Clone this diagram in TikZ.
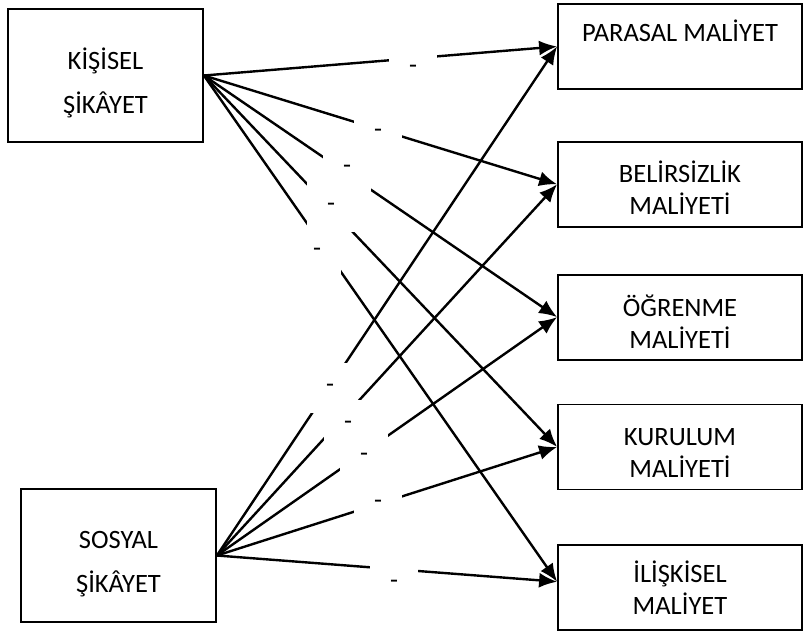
\documentclass[tikz,border=0pt]{standalone}
\usepackage{fontspec}
\setmainfont{Carlito}
\usetikzlibrary{arrows.meta, positioning}

\begin{document}
\begin{tikzpicture}[x=1pt, y=-1pt, src/.style={draw, line width=1.8pt, minimum width=195pt, minimum height=133pt, align=center, font=\fontsize{26.5}{44}\selectfont}, cost/.style={draw, line width=1.8pt, minimum width=244pt, minimum height=85pt, align=center, font=\fontsize{26.5}{32}\selectfont}, arrow/.style={-{Latex[length=18pt, width=15pt]}, line width=2.4pt}, gap/.style={fill=white, minimum width=48pt, minimum height=50pt, inner sep=0pt, font=\fontsize{26}{26}\selectfont}]
\useasboundingbox (0,0) rectangle (803,632);

\node[src] (kis) at (105.5,75.5) {\rule{0pt}{37pt}KİŞİSEL\\ŞİKÂYET};
\node[src] (sos) at (118.5,555.5) {\rule{0pt}{34pt}SOSYAL\\ŞİKÂYET};

\node[cost] (par) at (680,46.5) {PARASAL MALİYET\\~};
\node[cost, below=51pt of par] (bel) {\rule{0pt}{28pt}BELİRSİZLİK\\MALİYETİ};
\node[cost, below=46pt of bel] (ogr) {\rule{0pt}{31pt}ÖĞRENME\\MALİYETİ};
\node[cost, below=43pt of ogr] (kur) {\rule{0pt}{30pt}KURULUM\\MALİYETİ};
\node[cost, below=54pt of kur] (ili) {İLİŞKİSEL\\MALİYET};

\draw[arrow](kis.east)--(par.west);\draw[arrow](sos.east)--(par.west);
\draw[arrow](kis.east)--(bel.west);\draw[arrow](sos.east)--(bel.west);
\draw[arrow](kis.east)--(ogr.west);\draw[arrow](sos.east)--(ogr.west);
\draw[arrow](kis.east)--(kur.west);\draw[arrow](sos.east)--(kur.west);
\draw[arrow](kis.east)--([yshift=6pt]ili.west);\draw[arrow](sos.east)--([yshift=6pt]ili.west);

% white boxes with a dash that break the lines
\node[gap] (gk1) at (413,69) {-};
\node[gap] (gk2) at (378,133) {-};
\node[gap] (gk3) at (347,169) {-};
\node[gap] (gk4) at (331,207) {-};
\node[gap] (gk5) at (317,252) {-};
\node[gap] (gs1) at (330,388) {-};
\node[gap] (gs2) at (348,425) {-};
\node[gap] (gs3) at (364,457) {-};
\node[gap] (gs4) at (378,504) {-};
\node[gap] (gs5) at (394,584) {-};

\end{tikzpicture}
\end{document}
